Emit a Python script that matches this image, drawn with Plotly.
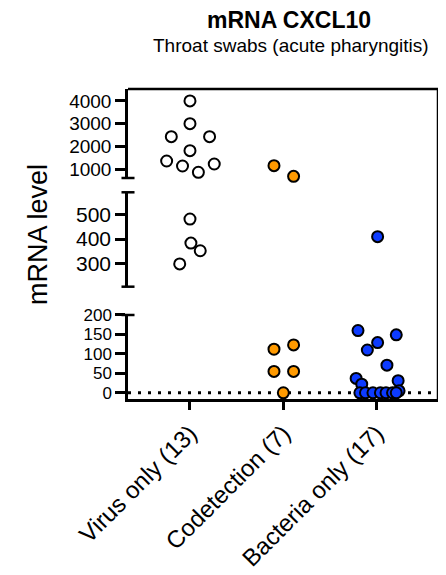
import plotly.graph_objects as go

categories = ["Virus only (13)", "Codetection (7)", "Bacteria only (17)"]

virus_values = [4000, 3000, 2430, 2430, 1816, 1364, 1145, 868, 1232, 481, 384, 353, 300]
virus_jitter = [0.0, 0.0, -0.20, 0.21, 0.0, -0.25, -0.08, 0.09, 0.26, 0.0, 0.01, 0.11, -0.11]

codetection_values = [1160, 690, 112, 123, 55, 55, 0]
codetection_jitter = [-0.10, 0.11, -0.10, 0.11, -0.10, 0.11, 0.0]

bacteria_values = [410, 160, 149, 129, 110, 71, 37, 31, 22, 5, 0, 0, 0, 0, 0, 0, 0]
bacteria_jitter = [0.01, -0.20, 0.21, 0.01, -0.10, 0.11, -0.22, 0.23, -0.16, 0.24,
                   -0.18, -0.12, -0.04, 0.04, 0.10, 0.17, 0.21]

low_ticks = [0, 50, 100, 150, 200]
mid_ticks = [300, 400, 500]
high_ticks = [1000, 2000, 3000, 4000]

low_range = [-16, 200]
mid_range = [208, 589]
high_range = [618, 4521]

FONT = "Liberation Sans, Arial, Helvetica, sans-serif"
LW = 2.5

groups = [
    (virus_values, virus_jitter, "white"),
    (codetection_values, codetection_jitter, "#FF9A00"),
    (bacteria_values, bacteria_jitter, "#0D3BFF"),
]

segments = [
    ("y", lambda v: v < 200.5),
    ("y2", lambda v: 200.5 <= v < 600),
    ("y3", lambda v: v >= 600),
]

fig = go.Figure()
for gi, (vals, jit, color) in enumerate(groups):
    for axis, test in segments:
        xs = [gi + j for v, j in zip(vals, jit) if test(v)]
        ys = [v for v in vals if test(v)]
        if not ys:
            continue
        fig.add_trace(go.Scatter(
            x=xs, y=ys, yaxis=axis, mode="markers",
            marker=dict(size=11, color=color, line=dict(color="black", width=2)),
            cliponaxis=False, showlegend=False, hoverinfo="y",
        ))


def yaxis_common(fs):
    return dict(
        showline=True, linewidth=LW, linecolor="black",
        ticks="outside", ticklen=10, tickwidth=LW, tickcolor="black",
        showgrid=False, zeroline=False, automargin=False,
        tickfont=dict(family=FONT, size=fs, color="black"),
        anchor="x",
    )


# the page body adds an 8px offset; the figure is sized to fill the rest
fig.update_layout(
    template="none",
    width=438, height=567,
    margin=dict(l=120, r=8, t=81, b=176),
    plot_bgcolor="white", paper_bgcolor="white",
    font=dict(family=FONT, color="black"),
    xaxis=dict(
        range=[-0.664, 2.657],
        tickvals=[0, 1, 2], ticktext=categories,
        tickangle=-45, automargin=False,
        showline=True, linewidth=LW, linecolor="black",
        ticks="outside", ticklen=8, tickwidth=LW, tickcolor="black",
        showgrid=False, zeroline=False,
        tickfont=dict(family=FONT, size=24, color="black"),
        anchor="y",
    ),
    yaxis=dict(domain=[0, 0.271], range=low_range, tickvals=low_ticks, **yaxis_common(17)),
    yaxis2=dict(domain=[0.3623, 0.6668], range=mid_range, tickvals=mid_ticks, **yaxis_common(21)),
    yaxis3=dict(domain=[0.7129, 1.0], range=high_range, tickvals=high_ticks, **yaxis_common(19)),
)

line = dict(color="black", width=LW)
cap = 0.021
shapes = [
    dict(type="line", xref="paper", yref="paper", x0=0, x1=1, y0=1, y1=1, line=line),
    dict(type="line", xref="paper", yref="paper", x0=1, x1=1, y0=0, y1=1, line=line),
    dict(type="line", xref="paper", yref="y3 domain", x0=-cap, x1=cap, y0=0, y1=0, line=line),
    dict(type="line", xref="paper", yref="y2 domain", x0=-cap, x1=cap, y0=0, y1=0, line=line),
    dict(type="line", xref="paper", yref="y2 domain", x0=-cap, x1=cap, y0=1, y1=1, line=line),
    dict(type="line", xref="paper", yref="y domain", x0=-cap, x1=cap, y0=1, y1=1, line=line),
    dict(type="line", xref="paper", yref="y", x0=0, x1=1, y0=0, y1=0, layer="below",
         line=dict(color="black", width=3, dash="3px,7px")),
]
fig.update_layout(shapes=shapes)

fig.add_annotation(text="<b>mRNA CXCL10</b>", xref="paper", yref="paper",
                   x=(289 - 128) / 310, y=(399 - 19.5) / 310, showarrow=False,
                   xanchor="center", yanchor="middle",
                   font=dict(family=FONT, size=23, color="black"))
fig.add_annotation(text="Throat swabs (acute pharyngitis)", xref="paper", yref="paper",
                   x=(291 - 128) / 310, y=(399 - 45) / 310, showarrow=False,
                   xanchor="center", yanchor="middle",
                   font=dict(family=FONT, size=19, color="black"))
fig.add_annotation(text="mRNA level", xref="paper", yref="paper",
                   x=(38 - 128) / 310, y=(399 - 235) / 310, showarrow=False,
                   xanchor="center", yanchor="middle", textangle=-90,
                   font=dict(family=FONT, size=27, color="black"))

fig.write_html("out.html")
